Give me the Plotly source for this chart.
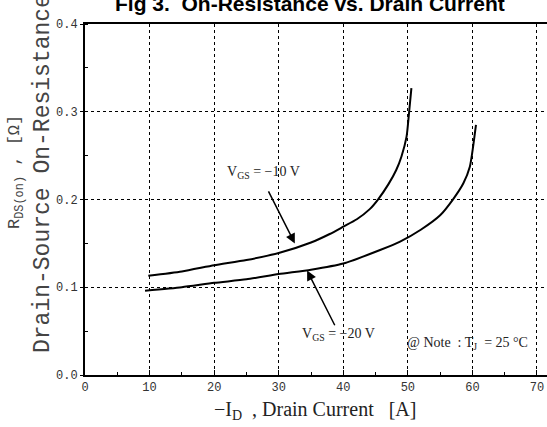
import plotly.graph_objects as go

# Data
id_10v = [9.8, 15, 20, 25, 30, 35, 37.9, 40, 42.1, 44.1, 45.4, 47.0, 48.2, 49.0, 49.8, 50.2, 50.55]
rds_10v = [0.113, 0.118, 0.125, 0.131, 0.139, 0.151, 0.1607, 0.169, 0.1775, 0.189, 0.2002, 0.2175, 0.2336, 0.2488, 0.2716, 0.300, 0.327]

id_20v = [9.3, 15, 20, 25, 30, 35, 40, 45.7, 48.8, 52.0, 55.0, 57.0, 58.6, 59.6, 60.1, 60.55]
rds_20v = [0.096, 0.100, 0.105, 0.109, 0.115, 0.120, 0.127, 0.1424, 0.152, 0.1655, 0.182, 0.2002, 0.2185, 0.2374, 0.260, 0.285]

x_ticks = [0, 10, 20, 30, 40, 50, 60, 70]
y_ticks = [0.0, 0.1, 0.2, 0.3, 0.4]
y_tick_labels = ["0.0", "0.1", "0.2", "0.3", "0.4"]

W, H = 547, 427
L, R, T, B = 85, 0, 24, 52
pw, ph = W - L - R, H - T - B

def px_x(p):
    return (p - L) / pw

def px_y(p):
    return 1 - (p - T) / ph

fig = go.Figure()
line_style = dict(color="black", width=2, shape="spline", smoothing=0.6)
fig.add_trace(go.Scatter(x=id_10v, y=rds_10v, mode="lines", line=line_style, showlegend=False))
fig.add_trace(go.Scatter(x=id_20v, y=rds_20v, mode="lines", line=line_style, showlegend=False))

mono = "Liberation Mono, Courier New, monospace"
serif = "Liberation Serif, Times New Roman, serif"

fig.update_layout(
    width=W, height=H,
    margin=dict(l=L, r=R, t=T, b=B, pad=0),
    paper_bgcolor="white", plot_bgcolor="white",
    showlegend=False,
    xaxis=dict(
        range=[0, 71.55], tickvals=x_ticks, ticktext=[str(v) for v in x_ticks],
        showline=True, linecolor="black", linewidth=2, mirror=True,
        ticks="inside", ticklen=5, tickcolor="black", tickwidth=1,
        minor=dict(ticks="inside", ticklen=3, dtick=5, tick0=0, tickcolor="black", showgrid=False),
        showgrid=True, gridcolor="black", griddash="dot", gridwidth=1,
        zeroline=False, automargin=False,
        tickfont=dict(family=mono, size=12, color="#333"),
    ),
    yaxis=dict(
        range=[0, 0.4], tickvals=y_ticks, ticktext=y_tick_labels,
        showline=True, linecolor="black", linewidth=2,
        ticks="outside", ticklen=3, tickcolor="black", tickwidth=1,
        minor=dict(ticks="inside", ticklen=3, dtick=0.05, tick0=0, tickcolor="black", showgrid=False),
        showgrid=True, gridcolor="black", griddash="dot", gridwidth=1,
        zeroline=False, automargin=False,
        tickfont=dict(family=mono, size=12, color="#333"),
    ),
)

anns = []
# Title
anns.append(dict(xref="paper", yref="paper", x=px_x(310), y=px_y(3.5), xanchor="center", yanchor="middle",
                 text="<b>Fig 3.  On-Resistance vs. Drain Current</b>", showarrow=False,
                 font=dict(family="Liberation Sans, Arial, sans-serif", size=21, color="black")))
# Y label lines
anns.append(dict(xref="paper", yref="paper", x=px_x(16), y=px_y(172), xanchor="center", yanchor="middle",
                 text="R<sub>DS(on)</sub> , [Ω]", textangle=-90, showarrow=False,
                 font=dict(family=mono, size=17, color="#444")))
anns.append(dict(xref="paper", yref="paper", x=px_x(43), y=px_y(174), xanchor="center", yanchor="middle",
                 text="Drain-Source On-Resistance", textangle=-90, showarrow=False,
                 font=dict(family=mono, size=23, color="#444")))
# X label
anns.append(dict(xref="paper", yref="paper", x=px_x(315), y=px_y(410), xanchor="center", yanchor="middle",
                 text="−I<sub>D</sub>  , Drain Current   [A]", showarrow=False,
                 font=dict(family=serif, size=20, color="#222")))
# Curve labels
anns.append(dict(xref="x", yref="y", x=27.6, y=0.2305, xanchor="center", yanchor="middle",
                 text="V<sub>GS</sub> = −10 V", showarrow=False,
                 font=dict(family=serif, size=14, color="#222")))
anns.append(dict(xref="x", yref="y", x=39.2, y=0.0467, xanchor="center", yanchor="middle",
                 text="V<sub>GS</sub> = −20 V", showarrow=False,
                 font=dict(family=serif, size=14, color="#222")))
anns.append(dict(xref="x", yref="y", x=59.3, y=0.036, xanchor="center", yanchor="middle",
                 text="@ Note  : T<sub>J</sub>  = 25 °C", showarrow=False,
                 font=dict(family=serif, size=14, color="#222")))
# Arrows
anns.append(dict(xref="x", yref="y", axref="x", ayref="y", x=32.5, y=0.150, ax=28.3, ay=0.211,
                 text="", showarrow=True, arrowhead=2, arrowsize=1.3, arrowwidth=1.5, arrowcolor="black"))
anns.append(dict(xref="x", yref="y", axref="x", ayref="y", x=34.4, y=0.119, ax=38.8, ay=0.055,
                 text="", showarrow=True, arrowhead=2, arrowsize=1.3, arrowwidth=1.5, arrowcolor="black"))

fig.update_layout(annotations=anns)
fig.write_html("out.html", config={"displayModeBar": False},
               post_script="document.body.style.margin='0';document.body.style.padding='0';")
